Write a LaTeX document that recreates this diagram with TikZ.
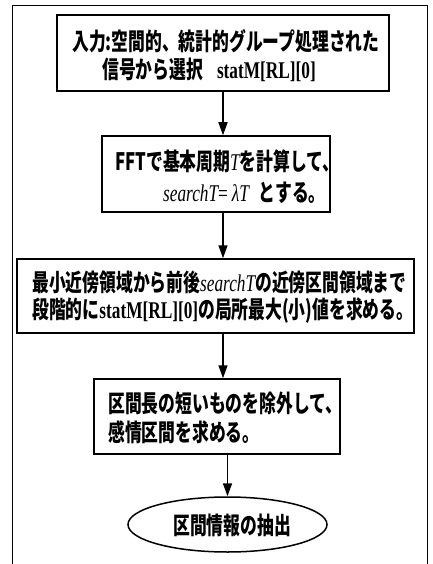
\documentclass[tikz,border=0pt]{standalone}
\usepackage{fontspec}
\usetikzlibrary{arrows.meta,shapes.geometric}
\newfontfamily\jpfont[FakeStretch=0.7]{Noto Sans CJK JP}
\newfontfamily\latfont[FakeStretch=0.72]{Liberation Serif}
\newcommand\latb[1]{{\latfont\bfseries #1}}
\newcommand\lati[1]{{\latfont\mdseries\itshape #1}}
\tikzset{
  box/.style={draw, line width=1.5pt, inner sep=0pt},
  txt/.style={anchor=west, inner sep=0pt, text height=21pt, text depth=3pt,
    font=\jpfont\bfseries\fontsize{24}{28}\selectfont},
  arr/.style={line width=1.6pt, -{Triangle[length=13pt,width=9pt]}},
  frame/.style={line width=1pt}
}
\begin{document}
\begin{tikzpicture}[x=1pt,y=-1pt]
\useasboundingbox (0,0) rectangle (433,564);
% outer frame
\draw[frame] (12,564) -- (12,6) -- (427,6) -- (427,564);
% boxes
\node[box, minimum width=332pt, minimum height=76pt] (b1) at (223,53) {};
\node[box, minimum width=228pt, minimum height=76pt] (b2) at (216,174) {};
\node[box, minimum width=397pt, minimum height=74pt] (b3) at (215.5,296) {};
\node[box, minimum width=246pt, minimum height=75pt] (b4) at (217,416.5) {};
\node[box, ellipse, minimum width=199pt, minimum height=55pt] (e) at (227.5,524.5) {};
% texts
\node[txt] (t1a) at (72,42) {入力:空間的、統計的グループ処理された};
\node[txt] (t1b) at (102,70) {信号から選択\hspace{14pt}\latb{statM[RL][0]}};
\node[txt] (t2a) at (115,162) {FFTで基本周期\lati{T}を計算して、};
\node[txt] (t2b) at (163,192) {\lati{searchT}{\latfont\mdseries =} \lati{λT}\hspace{10pt}とする。};
\node[txt] (t3a) at (32,282) {最小近傍領域から前後\lati{searchT}の近傍区間領域まで};
\node[txt] (t3b) at (32,309) {段階的に\latb{statM[RL][0]}の局所最大(小)値を求める。};
\node[txt] (t4a) at (108,403) {区間長の短いものを除外して、};
\node[txt] (t4b) at (108,432) {感情区間を求める。};
\node[txt, anchor=center] (te) at (232,525) {区間情報の抽出};
% arrows
\coordinate (ax) at (223,0);
\draw[arr] (b1.south -| ax) -- (b2.north -| ax);
\draw[arr] (b2.south -| ax) -- (b3.north -| ax);
\draw[arr] (b3.south -| ax) -- (b4.north -| ax);
\draw[arr] (b4.south -| e.north) -- (e.north);
\end{tikzpicture}
\end{document}
